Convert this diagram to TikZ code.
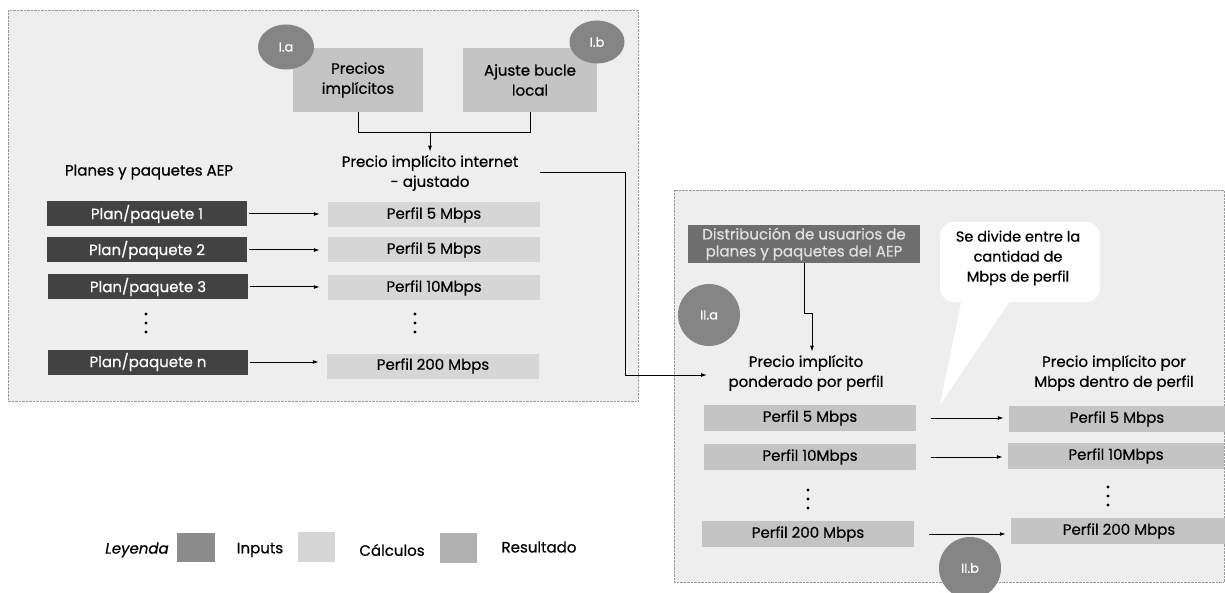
\documentclass[tikz,border=0pt]{standalone}
\usepackage{fontspec}
\setmainfont{Poppins}[UprightFeatures={FakeBold=0.6},ItalicFeatures={FakeBold=0.6}]
\usetikzlibrary{shapes.geometric,arrows.meta}

\definecolor{fondo}{HTML}{EEEEEE}
\definecolor{borde}{HTML}{9A9A9A}
\definecolor{inputgris}{HTML}{424242}
\definecolor{distgris}{HTML}{6E6E6E}
\definecolor{calcgris}{HTML}{D6D6D6}
\definecolor{resgris}{HTML}{C4C4C4}
\definecolor{circgris}{HTML}{858585}

\begin{document}
\begin{tikzpicture}[x=1pt,y=-1pt,font=\fontsize{15}{20}\selectfont,
	panel/.style={draw=borde,densely dotted,fill=fondo},
	plan/.style={fill=inputgris,text=white,minimum width=200pt,minimum height=25pt,inner sep=0pt},
	calc/.style={fill=calcgris,minimum width=212pt,minimum height=25pt,inner sep=0pt},
	res/.style={fill=resgris,minimum width=212pt,minimum height=26pt,inner sep=0pt},
	etiq/.style={ellipse,fill=circgris,text=white,inner sep=0pt,font=\fontsize{13}{15}\selectfont},
	flecha/.style={-{Latex[length=6pt,width=4pt]},line width=1pt},
	punto/.style={fill,circle,inner sep=0pt,minimum size=3.5pt}]
	\useasboundingbox (0,0) rectangle (1225,593);

	% paneles
	\path[panel] (8,10) rectangle (638,401);
	\path[panel] (674,190) rectangle (1224,582);

	% parte I
	\node[res,minimum width=130pt,minimum height=64pt,align=center] (precios) at (358,80) {Precios\\implícitos};
	\node[res,minimum width=134pt,minimum height=64pt,align=center] (ajuste) at (530,80) {Ajuste bucle\\local};
	\node[etiq,minimum width=56pt,minimum height=45pt] (ia) at (286,47) {I.a};
	\node[etiq,minimum width=55pt,minimum height=43pt] (ib) at (597,42) {I.b};
	\node[align=center] (pia) at (430,173) {Precio implícito internet\\- ajustado};
	\node (planes) at (149,172) {Planes y paquetes AEP};

	\draw[line width=1pt] (precios.south) -- ++(0,20) coordinate (union) -| (ajuste.south);
	\draw[flecha] (union -| pia.north) -- (pia.north);

	\node[plan] (p1) at (147,214) {Plan/paquete 1};
	\node[plan] (p2) at (147,250) {Plan/paquete 2};
	\node[plan] (p3) at (148,287) {Plan/paquete 3};
	\node[plan] (pn) at (148,362) {Plan/paquete n};
	\foreach \d in {-9,0,9}
		\fill (146,323+\d) circle (1.7pt);

	\node[calc] (c1) at (434,215) {Perfil 5 Mbps};
	\node[calc] (c2) at (434,250) {Perfil 5 Mbps};
	\node[calc] (c3) at (434,288) {Perfil 10Mbps};
	\node[calc] (cn) at (433,366) {Perfil 200 Mbps};
	\foreach \d in {-9,0,9}
		\fill (415,323+\d) circle (1.7pt);

	\foreach \a/\b in {p1/c1,p2/c2,p3/c3,pn/cn}
		\draw[flecha,shorten <=2pt,shorten >=8pt] (\a.east) -- (\a.east -| \b.west);

	% parte II
	\coordinate (codo) at (625,375);
	\coordinate (entrada) at (707,375);
	\draw[flecha] ([xshift=18pt]pia.east) -| (codo) -- (entrada);

	\fill[white,rounded corners=14pt] (940,222) rectangle (1100,302);
	\fill[white] (962,298) -- (940,405) -- (1012,298) -- cycle;
	\node[align=center,font=\fontsize{14.5}{20}\selectfont] (nota) at (1018,258) {Se divide entre la\\cantidad de\\Mbps de perfil};

	\node[fill=distgris,text=white!88!black,align=center,minimum width=232pt,minimum height=38pt,inner sep=0pt,font=\fontsize{15}{17}\selectfont] (dist) at (804,244) {Distribución de usuarios de\\planes y paquetes del AEP};
	\node[align=center] (ppp) at (806,373) {Precio implícito\\ponderado por perfil};
	\node[align=center] (pmb) at (1114,373) {Precio implícito por\\Mbps dentro de perfil};
	\draw[flecha] (dist.south) -- ++(0,50) -| ([xshift=6pt]ppp.north);

	\node[res] (r1) at (810,418) {Perfil 5 Mbps};
	\node[res] (r2) at (810,457) {Perfil 10Mbps};
	\node[res] (rn) at (808,534) {Perfil 200 Mbps};
	\foreach \d in {-9,0,9}
		\fill (808,499+\d) circle (1.7pt);

	\node[res,minimum width=216pt] (s1) at (1117,419) {Perfil 5 Mbps};
	\node[res,minimum width=216pt] (s2) at (1116,456) {Perfil 10Mbps};
	\node[res,minimum width=216pt] (sn) at (1119,531) {Perfil 200 Mbps};
	\foreach \d in {-9,0,9}
		\fill (1108,496+\d) circle (1.7pt);

	\foreach \a/\b in {r1/s1,r2/s2,rn/sn}
		\draw[flecha,shorten <=15pt,shorten >=5pt] (\a.east) -- (\a.east -| \b.west);

	\node[etiq,minimum size=62pt] (iia) at (709,315) {II.a};
	\node[etiq,minimum size=62pt] (iib) at (970,568) {II.b};

	% leyenda
	\node[font=\fontsize{15}{20}\itshape] (ley) at (137,550) {Leyenda};
	\node[fill=distgris!80,minimum width=38pt,minimum height=29pt] (li) at (196,547) {};
	\node (tin) at (260,550) {Inputs};
	\node[fill=calcgris,minimum width=37pt,minimum height=30pt] (lc) at (316,547) {};
	\node (tca) at (392,550) {Cálculos};
	\node[fill=resgris!90!black,minimum width=37pt,minimum height=30pt] (lr) at (458,548) {};
	\node (tre) at (539,547) {Resultado};
\end{tikzpicture}
\end{document}
